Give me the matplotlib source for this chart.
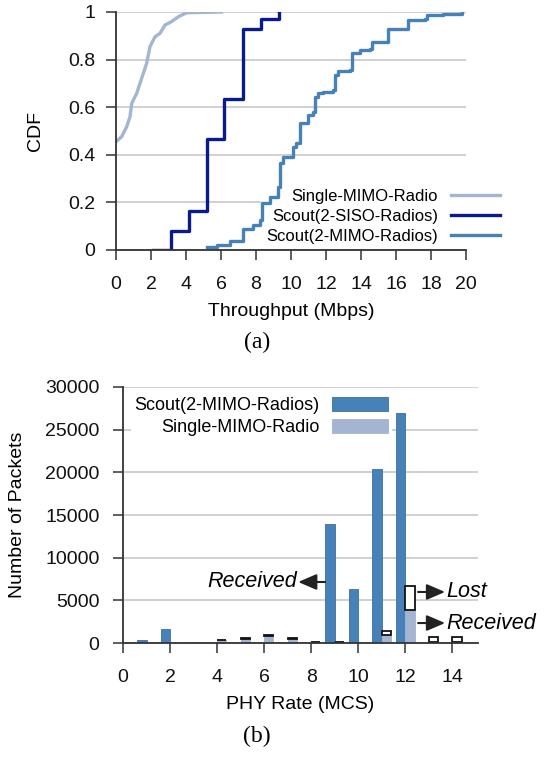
import numpy as np
import matplotlib
matplotlib.use("Agg")
import matplotlib.pyplot as plt

plt.rcParams['font.family'] = ['Liberation Sans', 'DejaVu Sans']

# ---- (a) throughput CDF ----
single_x = [0.0, 0.32, 0.61, 0.8, 0.9, 1.18, 1.56, 1.75, 1.94, 2.23, 2.51, 2.8, 3.18, 3.56, 4.04, 6.03]
single_y = [0.455, 0.476, 0.518, 0.56, 0.616, 0.658, 0.742, 0.784, 0.854, 0.896, 0.91, 0.945, 0.96, 0.98, 0.997, 1.0]

siso_x = [2.1, 3.14, 4.17, 5.18, 6.19, 7.23, 8.28, 9.33]
siso_y = [0.0, 0.081, 0.164, 0.465, 0.633, 0.927, 0.97, 1.0]

mimo_x = [5.22, 5.75, 6.5, 7.28, 7.85, 8.23, 8.33, 8.8, 9.27, 9.37, 9.56, 10.13, 10.3, 10.51,
          10.99, 11.27, 11.37, 11.56, 11.85, 12.42, 12.51, 12.7, 13.37, 13.47, 13.94, 14.51,
          14.61, 15.47, 15.56, 16.6, 16.7, 17.66, 17.75, 18.7, 19.75]
mimo_y = [0.014, 0.021, 0.039, 0.087, 0.105, 0.126, 0.196, 0.224, 0.266, 0.364, 0.392, 0.434,
          0.448, 0.532, 0.567, 0.581, 0.644, 0.658, 0.665, 0.672, 0.735, 0.753, 0.756, 0.826,
          0.84, 0.845, 0.875, 0.875, 0.927, 0.927, 0.966, 0.969, 0.987, 0.99, 0.997]

# ---- (b) packets per PHY rate ----
mcs = np.arange(15)
scout_pkts = [0, 400, 1650, 0, 0, 0, 0, 0, 0, 14000, 6300, 20400, 27000, 50, 50]
single_recv = [100, 100, 0, 60, 330, 500, 850, 520, 80, 60, 30, 950, 3900, 100, 80]
single_lost = [0, 0, 0, 0, 70, 90, 120, 100, 20, 20, 0, 450, 2750, 570, 570]

c_single = '#a3b5d1'
c_siso = '#0a1a8a'
c_mimo = '#4682b7'
c_grid = '#c8c8c8'
c_axis = '#333333'

fig = plt.figure(figsize=(5.48, 7.57), dpi=100)

# top panel
ax1 = fig.add_axes([116/548, 1-250/757, 350/548, 238/757])
ax1.plot(single_x, single_y, color=c_single, lw=2.4, label='Single-MIMO-Radio')
ax1.plot(siso_x, siso_y, color=c_siso, lw=2.4, drawstyle='steps-post', label='Scout(2-SISO-Radios)')
ax1.plot(mimo_x, mimo_y, color=c_mimo, lw=2.4, drawstyle='steps-post', label='Scout(2-MIMO-Radios)')
ax1.set_xlim(0, 20)
ax1.set_ylim(0, 1)
ax1.set_xticks(np.arange(0, 21, 2))
ax1.set_yticks([0, 0.2, 0.4, 0.6, 0.8, 1])
ax1.set_yticklabels(['0', '0.2', '0.4', '0.6', '0.8', '1'])
ax1.yaxis.grid(True, color=c_grid, lw=1.2)
ax1.set_axisbelow(True)
ax1.set_xlabel('Throughput (Mbps)', fontsize=14, labelpad=7)
ax1.set_ylabel('CDF', fontsize=14, labelpad=17)
leg1 = ax1.legend(loc='center right', bbox_to_anchor=(1.11, 0.14), markerfirst=False,
                  alignment='right', fontsize=12, handlelength=2.9, handletextpad=0.8,
                  labelspacing=0.3, borderpad=0.3, borderaxespad=0, frameon=True,
                  fancybox=False)
leg1.get_frame().set_edgecolor('none')
leg1.get_frame().set_facecolor('white')
leg1.get_frame().set_alpha(1)
leg1.set_zorder(1.5)

# bottom panel
ax2 = fig.add_axes([123/548, 1-643/757, 355/548, 256/757])
w = 0.4
ax2.bar(mcs - 0.2, scout_pkts, width=w, color=c_mimo, edgecolor='#3b6f9e', lw=0.6,
        label='Scout(2-MIMO-Radios)')
ax2.bar(mcs + 0.2, single_recv, width=w, color=c_single, edgecolor=c_single, lw=0.6,
        label='Single-MIMO-Radio')
lost = np.array(single_lost)
ax2.bar((mcs + 0.2)[lost > 0], lost[lost > 0], bottom=np.array(single_recv)[lost > 0],
        width=w, color='white', edgecolor='#111111', lw=1.3)
ax2.set_xlim(0, 15.1)
ax2.set_ylim(0, 30000)
ax2.set_xticks(np.arange(0, 15, 2))
ax2.set_yticks(np.arange(0, 30001, 5000))
ax2.yaxis.grid(True, color=c_grid, lw=1.2)
ax2.set_axisbelow(True)
ax2.set_xlabel('PHY Rate (MCS)', fontsize=14, labelpad=7)
ax2.set_ylabel('Number of Packets', fontsize=14, labelpad=14)
leg2 = ax2.legend(loc='upper right', bbox_to_anchor=(0.757, 0.975), markerfirst=False,
                  alignment='right', fontsize=13, handlelength=3.1, handleheight=0.8,
                  handletextpad=0.7, labelspacing=0.28, borderpad=0.2, borderaxespad=0,
                  frameon=True, fancybox=False)
leg2.get_frame().set_edgecolor('none')
leg2.get_frame().set_facecolor('white')
leg2.get_frame().set_alpha(1)

arrow = dict(arrowstyle='-|>,head_length=0.7,head_width=0.3', color='#222222', lw=1.5,
             mutation_scale=16, shrinkA=0, shrinkB=0)
ax2.annotate('', xy=(7.45, 7150), xytext=(8.6, 7150), arrowprops=arrow)
ax2.text(7.42, 7150, 'Received', ha='right', va='center', style='italic', fontsize=15.5)
ax2.annotate('', xy=(13.7, 5980), xytext=(12.55, 5980), arrowprops=arrow, annotation_clip=False)
ax2.text(13.75, 5980, 'Lost', ha='left', va='center', style='italic', fontsize=15.5, clip_on=False)
ax2.annotate('', xy=(13.7, 2340), xytext=(12.55, 2340), arrowprops=arrow, annotation_clip=False)
ax2.text(13.75, 2340, 'Received', ha='left', va='center', style='italic', fontsize=15.5, clip_on=False)

for ax in (ax1, ax2):
    for s in ('top', 'right'):
        ax.spines[s].set_visible(False)
    for s in ('left', 'bottom'):
        ax.spines[s].set_color(c_axis)
        ax.spines[s].set_linewidth(1.3)
    ax.tick_params(direction='out', length=7, width=1.1, color=c_axis, labelsize=14,
                   labelcolor='#111111', pad=5)
ax1.tick_params(axis='x', pad=12)
ax1.tick_params(axis='y', pad=8)
ax2.tick_params(axis='x', pad=12)
ax2.tick_params(axis='y', pad=10)

fig.text(257/548, 1-342/757, '(a)', ha='center', va='center', fontsize=17,
         family='Liberation Serif')
fig.text(257/548, 1-736/757, '(b)', ha='center', va='center', fontsize=17,
         family='Liberation Serif')

fig.savefig('out.png', dpi=100)
